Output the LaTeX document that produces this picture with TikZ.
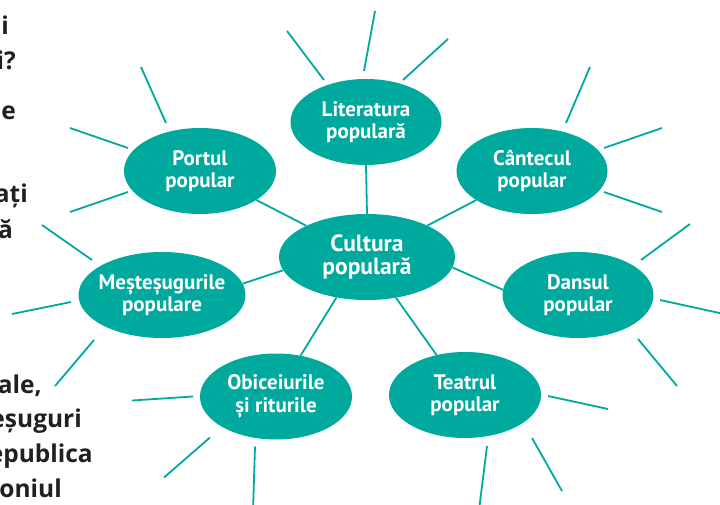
\documentclass[tikz,border=0pt]{standalone}
\usepackage{fontspec}
\setmainfont{PT Sans}
\newfontfamily\sidefont{Open Sans}
\usetikzlibrary{shapes.geometric}
\definecolor{teal1}{HTML}{00A99D}
\definecolor{ink}{HTML}{231F20}
\newcommand\zl[1]{\makebox[0pt]{#1}}
\begin{document}
\begin{tikzpicture}[x=1pt,y=-1pt,
  bub/.style={ellipse, fill=teal1, draw=none, inner sep=0pt, minimum height=86pt,
    text=white, font=\bfseries\fontsize{21}{22.5}\selectfont, align=center},
  ray/.style={draw=teal1, line width=1.8pt},
  spoke/.style={draw=teal1, line width=1.8pt},
  side/.style={anchor=base east, text=ink, inner sep=0pt,
    font=\sidefont\bfseries\fontsize{24.5}{30}\selectfont}]
\useasboundingbox (0,0) rectangle (720,505);

% side text (cut off on the left)
\node[side] (s1) at (9,35) {i};
\node[side] (s2) at (16,70) {i?};
\node[side] (s3) at (16,120) {e};
\node[side] (s4) at (28,203) {ați};
\node[side] (s5) at (13,238) {ă};
\node[side] (s6) at (42,393) {ale,};
\node[side] (s7) at (82,427) {eșuguri};
\node[side] (s8) at (93,462) {epublica};
\node[side] (s9) at (62,497) {oniul};

% ellipses
\node[bub, minimum width=176pt, font=\bfseries\fontsize{23.5}{23.5}\selectfont] (cul) at (367,257) {\zl{Cultura}\\\zl{populară}};
\node[bub, minimum width=151pt] (lit) at (366,122) {\zl{Literatura}\\\zl{populară}};
\node[bub, minimum width=151pt] (can) at (532,171) {\zl{Cântecul}\\\zl{popular}};
\node[bub, minimum width=151pt] (dan) at (578,295) {\zl{Dansul}\\\zl{popular}};
\node[bub, minimum width=152pt] (tea) at (465,395) {\zl{Teatrul}\\\zl{popular}};
\node[bub, minimum width=152pt] (obi) at (276,396.5) {\zl{Obiceiurile}\\\zl{și riturile}};
\node[bub, minimum width=167pt] (mes) at (162,295) {\zl{Meșteșugurile}\\\zl{populare}};
\node[bub, minimum width=152pt] (por) at (200,171) {\zl{Portul}\\\zl{popular}};

% spokes
\draw[spoke] (lit.south) -- (cul.north);
\draw[spoke] (cul) -- (can);
\draw[spoke] (cul) -- (por);
\draw[spoke] (cul.-7) -- (dan.176);
\draw[spoke] (cul.189) -- (mes.8);
\draw[spoke] (cul.233) -- (obi.59);
\draw[spoke] (cul) -- (tea);

% rays
\draw[ray] ([shift={(-79,-91)}]lit.center) -- ([shift={(-42,-42)}]lit.center);
\draw[ray] ([shift={(9,-111)}]lit.center) -- ([shift={(-2,-51)}]lit.center);
\draw[ray] ([shift={(82,-83)}]lit.center) -- ([shift={(37,-42)}]lit.center);

\draw[ray] ([shift={(58,-104)}]can.center) -- ([shift={(34,-48)}]can.center);
\draw[ray] ([shift={(130,-43)}]can.center) -- ([shift={(72,-23)}]can.center);
\draw[ray] ([shift={(72,21)}]can.center) -- ([shift={(130,41)}]can.center);

\draw[ray] ([shift={(112,-71)}]dan.center) -- ([shift={(63,-35)}]dan.center);
\draw[ray] ([shift={(82,5)}]dan.center) -- ([shift={(146,19)}]dan.center);
\draw[ray] ([shift={(60,44)}]dan.center) -- ([shift={(99,91)}]dan.center);

\draw[ray] ([shift={(83,1)}]tea.center) -- ([shift={(143,14)}]tea.center);
\draw[ray] ([shift={(67,43)}]tea.center) -- ([shift={(97,96)}]tea.center);
\draw[ray] ([shift={(22,51)}]tea.center) -- ([shift={(14,115)}]tea.center);

\draw[ray] ([shift={(-144,4)}]obi.center) -- ([shift={(-83,0)}]obi.center);
\draw[ray] ([shift={(-66,41)}]obi.center) -- ([shift={(-112,81)}]obi.center);
\draw[ray] ([shift={(-21,50)}]obi.center) -- ([shift={(-23,115)}]obi.center);

\draw[ray] ([shift={(-120,-70)}]mes.center) -- ([shift={(-70,-35)}]mes.center);
\draw[ray] ([shift={(-150,19)}]mes.center) -- ([shift={(-91,7)}]mes.center);
\draw[ray] ([shift={(-68,45)}]mes.center) -- ([shift={(-107,91)}]mes.center);

\draw[ray] ([shift={(-59,-104)}]por.center) -- ([shift={(-34,-48)}]por.center);
\draw[ray] ([shift={(-130,-43)}]por.center) -- ([shift={(-72,-23)}]por.center);
\draw[ray] ([shift={(-72,21)}]por.center) -- ([shift={(-130,41)}]por.center);
\end{tikzpicture}
\end{document}
